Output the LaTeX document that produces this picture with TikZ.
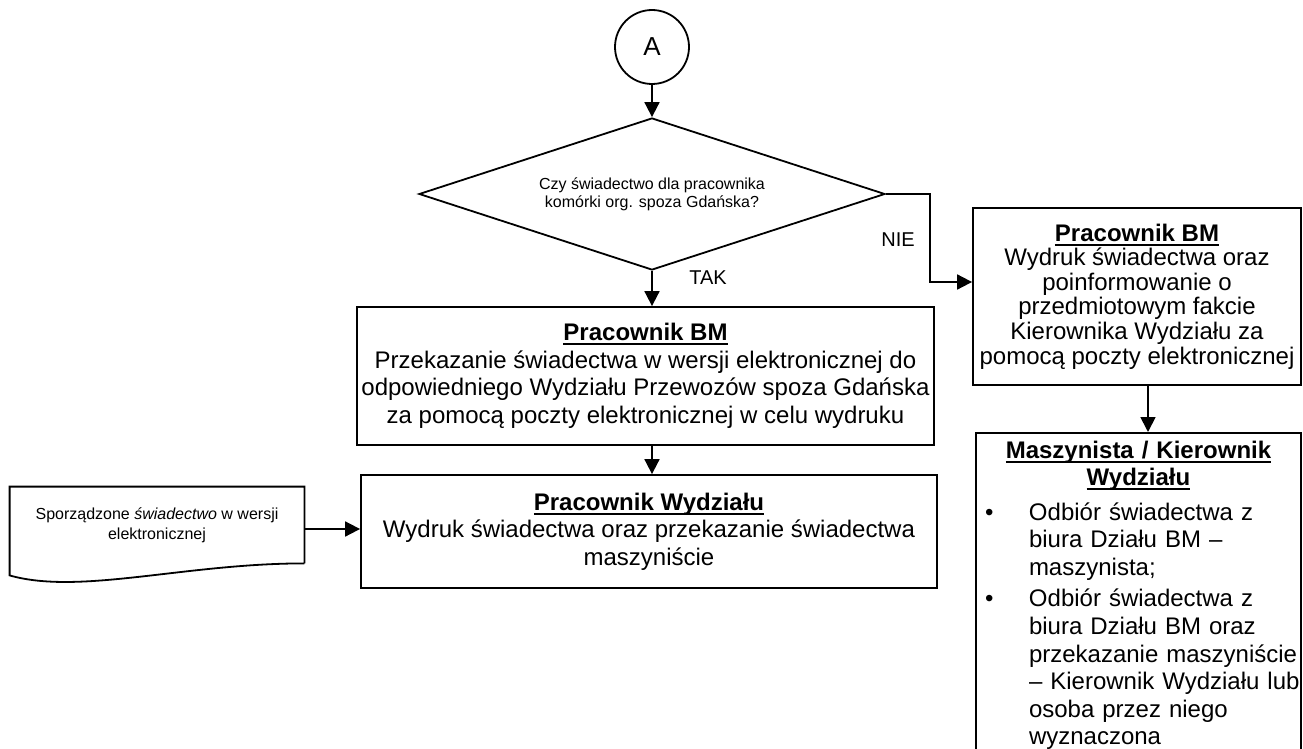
\documentclass[tikz,border=0pt]{standalone}
\usepackage{fontspec}
\setmainfont{Liberation Sans}
\usepackage{tikz}
\usetikzlibrary{shapes,arrows.meta,calc}
\tikzstyle{pbox}=[rectangle,draw,line width=0.9pt,align=center,inner sep=1.5pt,font=\fontsize{12}{13.8}\selectfont]
\tikzstyle{decis}=[diamond,draw,line width=0.9pt,inner sep=0pt,aspect=3,align=center,font=\fontsize{8}{9}\selectfont]
\tikzstyle{conn}=[line width=0.9pt,-{Triangle[length=7.5pt,width=7.5pt]}]
\tikzstyle{lbl}=[inner sep=0pt,font=\fontsize{10}{12}\selectfont]
\newcommand{\hdr}[1]{\leavevmode{\bfseries\setbox0\hbox{#1}\rlap{\rule[-2.3pt]{\wd0}{1.1pt}}\box0}}

\begin{document}
\begin{tikzpicture}[x=0.5pt,y=-0.5pt]
        \useasboundingbox (0,0) rectangle (1303,749);
        \node[circle,draw,line width=0.9pt,minimum size=37pt,inner sep=0pt,font=\fontsize{13}{15}\selectfont] (start) at (652,47) {A};
        \node[decis,minimum width=233pt,minimum height=76pt] (pyt) at (652,194) {Czy świadectwo dla pracownika\\komórki org. spoza Gdańska?};
        \node[pbox,minimum width=288.5pt,minimum height=69pt] (przek) at (645.5,376) {\hdr{Pracownik BM}\\Przekazanie świadectwa w wersji elektronicznej do\\odpowiedniego Wydziału Przewozów spoza Gdańska\\za pomocą poczty elektronicznej w celu wydruku};
        \node[pbox,minimum width=288pt,minimum height=56.5pt] (wydr) at (649,531.5) {\hdr{Pracownik Wydziału}\\Wydruk świadectwa oraz przekazanie świadectwa\\maszyniście};
        \node[pbox,minimum width=164pt,minimum height=88.5pt,font=\fontsize{12}{12.3}\selectfont] (info) at (1137,296.5) {\hdr{Pracownik BM}\\Wydruk świadectwa oraz\\poinformowanie o\\przedmiotowym fakcie\\Kierownika Wydziału za\\pomocą poczty elektronicznej};
        \node[pbox,anchor=north,text width=159.5pt,align=left,inner ysep=4pt] (odb) at (1138.5,432) {{\centering\hdr{Maszynista / Kierownik}\\\hdr{Wydziału}\par}
            \vspace{4pt}\noindent\begin{tabular}{@{}p{25pt}@{}l@{}}
            \hspace*{3pt}\textbullet & Odbiór świadectwa z\\
            & biura Działu BM –\\
            & maszynista;\\[2pt]
            \hspace*{3pt}\textbullet & Odbiór świadectwa z\\
            & biura Działu BM oraz\\
            & przekazanie maszyniście\\
            & – Kierownik Wydziału lub\\
            & osoba przez niego\\
            & wyznaczona\\[12pt]
            \end{tabular}};
        \node[minimum width=147pt,minimum height=38pt,inner sep=0pt,align=center,font=\fontsize{8}{10}\selectfont] (dok) at (157,525) {Sporządzone \textit{świadectwo} w wersji\\elektronicznej};
        \draw[line width=0.9pt] (dok.south east) -- (dok.north east) -- (dok.north west) -- ($(dok.south west)+(0,12)$) .. controls +(70,20) and +(-120,0) .. (dok.south east);
        \coordinate (zal) at (930,282);
        \node[lbl] (tak) at (708,278) {TAK};
        \node[lbl] (nie) at (898,240) {NIE};
        \draw[conn] (start) -- (pyt);
        \draw[conn] (pyt.south) -- (pyt.south |- przek.north);
        \draw[conn] (pyt.east) -| (zal) -- (zal -| info.west);
        \draw[conn] (przek.south -| pyt.south) -- (wydr.north -| pyt.south);
        \draw[conn] ([yshift=-2pt]dok.east) -- ([yshift=-2pt]dok.east -| wydr.west);
        \draw[conn] ([xshift=5.5pt]info.south) -- ([xshift=5.5pt]info.south |- odb.north);
\end{tikzpicture}
\end{document}
